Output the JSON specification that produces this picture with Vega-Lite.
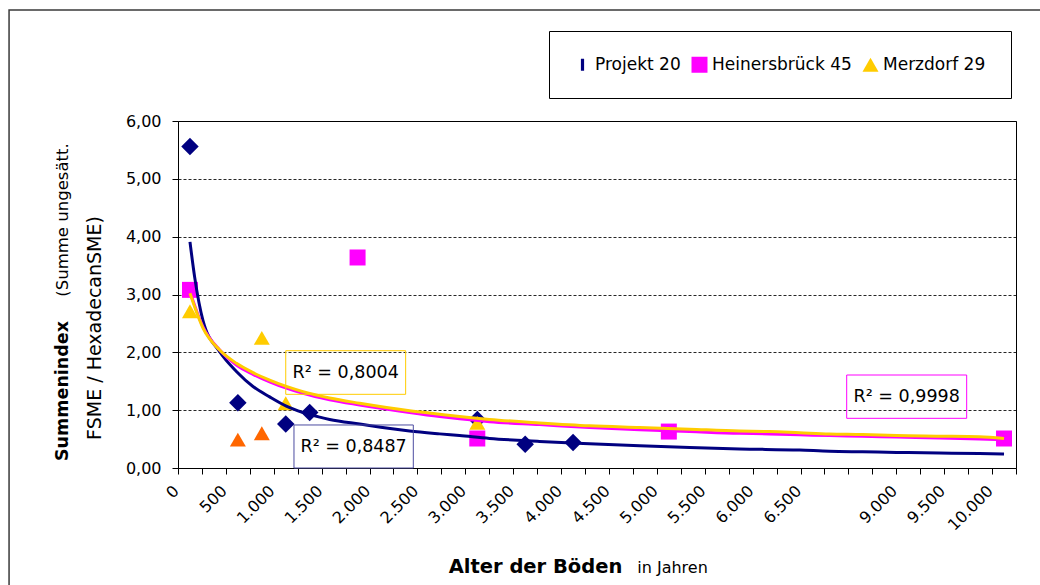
{
  "$schema": "https://vega.github.io/schema/vega-lite/v6.json",
  "width": 838,
  "height": 347,
  "autosize": {"type": "none"},
  "padding": {"left": 178, "top": 121, "right": 24, "bottom": 117},
  "background": "white",
  "config": {
    "font": "DejaVu Sans",
    "view": {"stroke": "#000", "strokeWidth": 1},
    "axis": {"labelFont": "DejaVu Sans", "titleFont": "DejaVu Sans", "labelColor": "#000", "titleColor": "#000", "tickColor": "#000", "domainColor": "#000"}
  },
  "datasets": {
    "punkte": [
      {"Serie": "Projekt 20", "Alter": 0, "Summenindex": 5.56},
      {"Serie": "Projekt 20", "Alter": 500, "Summenindex": 1.13},
      {"Serie": "Projekt 20", "Alter": 1000, "Summenindex": 0.76},
      {"Serie": "Projekt 20", "Alter": 1250, "Summenindex": 0.96},
      {"Serie": "Projekt 20", "Alter": 3000, "Summenindex": 0.84},
      {"Serie": "Projekt 20", "Alter": 3500, "Summenindex": 0.41},
      {"Serie": "Projekt 20", "Alter": 4000, "Summenindex": 0.44},
      {"Serie": "Merzdorf 29", "Alter": 0, "Summenindex": 2.71},
      {"Serie": "Merzdorf 29", "Alter": 750, "Summenindex": 2.25},
      {"Serie": "Merzdorf 29", "Alter": 1000, "Summenindex": 1.12},
      {"Serie": "Merzdorf 29", "Alter": 3000, "Summenindex": 0.78},
      {"Serie": "Merzdorf 29 (nicht im Trend)", "Alter": 500, "Summenindex": 0.49},
      {"Serie": "Merzdorf 29 (nicht im Trend)", "Alter": 750, "Summenindex": 0.6},
      {"Serie": "Heinersbrück 45", "Alter": 0, "Summenindex": 3.08},
      {"Serie": "Heinersbrück 45", "Alter": 1750, "Summenindex": 3.64},
      {"Serie": "Heinersbrück 45", "Alter": 3000, "Summenindex": 0.51},
      {"Serie": "Heinersbrück 45", "Alter": 5000, "Summenindex": 0.63},
      {"Serie": "Heinersbrück 45", "Alter": 10000, "Summenindex": 0.51}
    ],
    "trend": [
      {"Serie": "Projekt 20", "Alter": 0, "Trend": 3.91},
      {"Serie": "Projekt 20", "Alter": 49, "Trend": 3.3},
      {"Serie": "Projekt 20", "Alter": 136, "Trend": 2.55},
      {"Serie": "Projekt 20", "Alter": 310, "Trend": 2.01},
      {"Serie": "Projekt 20", "Alter": 485, "Trend": 1.67},
      {"Serie": "Projekt 20", "Alter": 658, "Trend": 1.41},
      {"Serie": "Projekt 20", "Alter": 832, "Trend": 1.23},
      {"Serie": "Projekt 20", "Alter": 1006, "Trend": 1.07},
      {"Serie": "Projekt 20", "Alter": 1180, "Trend": 0.96},
      {"Serie": "Projekt 20", "Alter": 1354, "Trend": 0.88},
      {"Serie": "Projekt 20", "Alter": 1458, "Trend": 0.84},
      {"Serie": "Projekt 20", "Alter": 1772, "Trend": 0.76},
      {"Serie": "Projekt 20", "Alter": 2293, "Trend": 0.64},
      {"Serie": "Projekt 20", "Alter": 2607, "Trend": 0.59},
      {"Serie": "Projekt 20", "Alter": 2815, "Trend": 0.56},
      {"Serie": "Projekt 20", "Alter": 3128, "Trend": 0.51},
      {"Serie": "Projekt 20", "Alter": 3650, "Trend": 0.46},
      {"Serie": "Projekt 20", "Alter": 4172, "Trend": 0.42},
      {"Serie": "Projekt 20", "Alter": 4695, "Trend": 0.385},
      {"Serie": "Projekt 20", "Alter": 5217, "Trend": 0.355},
      {"Serie": "Projekt 20", "Alter": 5738, "Trend": 0.33},
      {"Serie": "Projekt 20", "Alter": 6365, "Trend": 0.31},
      {"Serie": "Projekt 20", "Alter": 6944, "Trend": 0.29},
      {"Serie": "Projekt 20", "Alter": 7806, "Trend": 0.28},
      {"Serie": "Projekt 20", "Alter": 8694, "Trend": 0.27},
      {"Serie": "Projekt 20", "Alter": 9325, "Trend": 0.26},
      {"Serie": "Projekt 20", "Alter": 9742, "Trend": 0.25},
      {"Serie": "Projekt 20", "Alter": 10000, "Trend": 0.24},
      {"Serie": "Heinersbrück 45", "Alter": 0, "Trend": 3.05},
      {"Serie": "Heinersbrück 45", "Alter": 136, "Trend": 2.44},
      {"Serie": "Heinersbrück 45", "Alter": 310, "Trend": 2.04},
      {"Serie": "Heinersbrück 45", "Alter": 485, "Trend": 1.78},
      {"Serie": "Heinersbrück 45", "Alter": 658, "Trend": 1.62},
      {"Serie": "Heinersbrück 45", "Alter": 832, "Trend": 1.49},
      {"Serie": "Heinersbrück 45", "Alter": 1006, "Trend": 1.38},
      {"Serie": "Heinersbrück 45", "Alter": 1180, "Trend": 1.29},
      {"Serie": "Heinersbrück 45", "Alter": 1458, "Trend": 1.18},
      {"Serie": "Heinersbrück 45", "Alter": 1772, "Trend": 1.09},
      {"Serie": "Heinersbrück 45", "Alter": 2293, "Trend": 0.96},
      {"Serie": "Heinersbrück 45", "Alter": 2607, "Trend": 0.89},
      {"Serie": "Heinersbrück 45", "Alter": 2815, "Trend": 0.85},
      {"Serie": "Heinersbrück 45", "Alter": 3128, "Trend": 0.8},
      {"Serie": "Heinersbrück 45", "Alter": 3650, "Trend": 0.75},
      {"Serie": "Heinersbrück 45", "Alter": 4172, "Trend": 0.7},
      {"Serie": "Heinersbrück 45", "Alter": 4695, "Trend": 0.66},
      {"Serie": "Heinersbrück 45", "Alter": 5217, "Trend": 0.63},
      {"Serie": "Heinersbrück 45", "Alter": 5738, "Trend": 0.6},
      {"Serie": "Heinersbrück 45", "Alter": 6050, "Trend": 0.59},
      {"Serie": "Heinersbrück 45", "Alter": 6365, "Trend": 0.575},
      {"Serie": "Heinersbrück 45", "Alter": 6944, "Trend": 0.56},
      {"Serie": "Heinersbrück 45", "Alter": 7806, "Trend": 0.55},
      {"Serie": "Heinersbrück 45", "Alter": 8694, "Trend": 0.535},
      {"Serie": "Heinersbrück 45", "Alter": 9325, "Trend": 0.52},
      {"Serie": "Heinersbrück 45", "Alter": 9742, "Trend": 0.5},
      {"Serie": "Heinersbrück 45", "Alter": 10000, "Trend": 0.49},
      {"Serie": "Merzdorf 29", "Alter": 0, "Trend": 3.02},
      {"Serie": "Merzdorf 29", "Alter": 136, "Trend": 2.42},
      {"Serie": "Merzdorf 29", "Alter": 310, "Trend": 2.04},
      {"Serie": "Merzdorf 29", "Alter": 485, "Trend": 1.81},
      {"Serie": "Merzdorf 29", "Alter": 658, "Trend": 1.65},
      {"Serie": "Merzdorf 29", "Alter": 832, "Trend": 1.52},
      {"Serie": "Merzdorf 29", "Alter": 1006, "Trend": 1.41},
      {"Serie": "Merzdorf 29", "Alter": 1180, "Trend": 1.32},
      {"Serie": "Merzdorf 29", "Alter": 1458, "Trend": 1.21},
      {"Serie": "Merzdorf 29", "Alter": 1772, "Trend": 1.12},
      {"Serie": "Merzdorf 29", "Alter": 2293, "Trend": 0.99},
      {"Serie": "Merzdorf 29", "Alter": 2607, "Trend": 0.93},
      {"Serie": "Merzdorf 29", "Alter": 2815, "Trend": 0.89},
      {"Serie": "Merzdorf 29", "Alter": 3128, "Trend": 0.84},
      {"Serie": "Merzdorf 29", "Alter": 3650, "Trend": 0.78},
      {"Serie": "Merzdorf 29", "Alter": 4172, "Trend": 0.73},
      {"Serie": "Merzdorf 29", "Alter": 4695, "Trend": 0.7},
      {"Serie": "Merzdorf 29", "Alter": 5217, "Trend": 0.67},
      {"Serie": "Merzdorf 29", "Alter": 5738, "Trend": 0.64},
      {"Serie": "Merzdorf 29", "Alter": 6050, "Trend": 0.63},
      {"Serie": "Merzdorf 29", "Alter": 6365, "Trend": 0.61},
      {"Serie": "Merzdorf 29", "Alter": 6944, "Trend": 0.59},
      {"Serie": "Merzdorf 29", "Alter": 7806, "Trend": 0.58},
      {"Serie": "Merzdorf 29", "Alter": 8694, "Trend": 0.56},
      {"Serie": "Merzdorf 29", "Alter": 9325, "Trend": 0.55},
      {"Serie": "Merzdorf 29", "Alter": 9742, "Trend": 0.54},
      {"Serie": "Merzdorf 29", "Alter": 10000, "Trend": 0.51}
    ]
  },
  "resolve": {"axis": {"x": "independent", "y": "independent"}},
  "layer": [
    {
      "data": {"values": [{}]},
      "mark": {"type": "rect", "fill": "white", "fillOpacity": 0, "stroke": "#3a3a3a", "strokeWidth": 1.5},
      "encoding": {
        "x": {"datum": -1889, "type": "quantitative", "scale": {"domain": [-125, 6500, 9000, 10125], "range": [0, 634.49, 730.26, 838], "nice": false, "zero": false}, "axis": null},
        "x2": {"datum": 10428},
        "y": {"datum": 7.92, "type": "quantitative", "scale": {"domain": [0, 6], "nice": false, "zero": true}, "axis": null},
        "y2": {"datum": -2.28}
      }
    },
    {
      "data": {"name": "punkte"},
      "transform": [{"filter": "datum.Serie === 'Projekt 20'"}],
      "mark": {"type": "point", "filled": true, "opacity": 1, "strokeWidth": 0, "shape": "diamond", "size": 306, "color": "#000080"},
      "encoding": {
        "x": {"field": "Alter", "type": "quantitative", "scale": {"domain": [-125, 6500, 9000, 10125], "range": [0, 634.49, 730.26, 838], "nice": false, "zero": false}, "axis": null},
        "y": {"field": "Summenindex", "type": "quantitative", "scale": {"domain": [0, 6], "nice": false, "zero": true}, "axis": null}
      }
    },
    {
      "data": {"name": "punkte"},
      "transform": [{"filter": "datum.Serie !== 'Projekt 20'"}],
      "mark": {"type": "point", "filled": true, "opacity": 1, "strokeWidth": 0},
      "encoding": {
        "x": {
          "field": "Alter", "type": "quantitative",
          "scale": {"domain": [-125, 6500, 9000, 10125], "range": [0, 634.49, 730.26, 838], "nice": false, "zero": false},
          "axis": {
            "orient": "bottom",
            "values": [0, 500, 1000, 1500, 2000, 2500, 3000, 3500, 4000, 4500, 5000, 5500, 6000, 6500, 9000, 9500, 10000],
            "labelExpr": "replace(format(datum.value, ','), ',', '.')",
            "labelAngle": 315, "labelAlign": "right", "labelBaseline": "middle",
            "labelPadding": 20, "labelOffset": -14, "labelFontSize": 16,
            "labelOverlap": false, "labelFlush": false, "labelBound": false,
            "ticks": false, "tickSize": 0, "domain": false, "grid": false,
            "title": "Alter der Böden", "titleFontSize": 19.5, "titleFontWeight": "bold",
            "titleX": 357, "titleY": 104, "titleAlign": "center", "titleBaseline": "alphabetic"
          }
        },
        "y": {
          "field": "Summenindex", "type": "quantitative",
          "scale": {"domain": [0, 6], "nice": false, "zero": true},
          "axis": {
            "orient": "left",
            "values": [0, 1, 2, 3, 4, 5, 6],
            "labelExpr": "replace(format(datum.value, '.2f'), '.', ',')",
            "labelFontSize": 16, "labelPadding": 11, "tickSize": 6, "domain": false,
            "grid": true, "gridColor": "#000", "gridDash": [3, 2], "gridWidth": 1, "gridOpacity": 0.85,
            "title": "FSME / HexadecanSME)", "titleFontSize": 19, "titleFontWeight": "normal",
            "titleAngle": 270, "titleX": -78, "titleY": 206.5, "titleAlign": "center", "titleBaseline": "alphabetic"
          }
        },
        "color": {
          "field": "Serie", "type": "nominal",
          "scale": {"domain": ["Projekt 20", "Heinersbrück 45", "Merzdorf 29", "Merzdorf 29 (nicht im Trend)"], "range": ["#000080", "#FF00FF", "#FFCC00", "#FF6600"]},
          "legend": {
            "orient": "none", "legendX": 371, "legendY": -90, "direction": "horizontal", "title": null,
            "values": ["Projekt 20", "Heinersbrück 45", "Merzdorf 29"],
            "strokeColor": "#000", "padding": 25, "fillColor": "white",
            "labelFont": "DejaVu Sans", "labelFontSize": 17, "labelColor": "#000", "labelOffset": 4, "columnPadding": 10,
            "symbolStrokeWidth": 0, "symbolOpacity": 1
          }
        },
        "shape": {
          "field": "Serie", "type": "nominal",
          "scale": {"domain": ["Projekt 20", "Heinersbrück 45", "Merzdorf 29", "Merzdorf 29 (nicht im Trend)"], "range": ["M-0.2,-0.75H0.2V0.75H-0.2Z", "square", "triangle-up", "triangle-up"]},
          "legend": {
            "orient": "none", "legendX": 371, "legendY": -90, "direction": "horizontal", "title": null,
            "values": ["Projekt 20", "Heinersbrück 45", "Merzdorf 29"],
            "strokeColor": "#000", "padding": 25, "fillColor": "white",
            "labelFont": "DejaVu Sans", "labelFontSize": 17, "labelColor": "#000", "labelOffset": 4, "columnPadding": 10,
            "symbolStrokeWidth": 0, "symbolOpacity": 1
          }
        },
        "size": {
          "field": "Serie", "type": "nominal",
          "scale": {"domain": ["Projekt 20", "Heinersbrück 45", "Merzdorf 29", "Merzdorf 29 (nicht im Trend)"], "range": [256, 256, 400, 400]},
          "legend": null
        }
      }
    },
    {
      "data": {"name": "trend"},
      "mark": {"type": "line", "strokeWidth": 3, "interpolate": "monotone"},
      "encoding": {
        "x": {
          "field": "Alter", "type": "quantitative",
          "scale": {"domain": [-125, 6500, 9000, 10125], "range": [0, 634.49, 730.26, 838], "nice": false, "zero": false},
          "axis": {
            "orient": "bottom",
            "values": [-125, 125, 375, 625, 875, 1125, 1375, 1625, 1875, 2125, 2375, 2625, 2875, 3125, 3375, 3625, 3875, 4125, 4375, 4625, 4875, 5125, 5375, 5625, 5875, 6125, 6375, 6812.5, 7437.5, 8062.5, 8687.5, 9125, 9375, 9625, 9875, 10125],
            "labels": false, "ticks": true, "tickSize": 6, "domain": false, "grid": false,
            "title": "in Jahren", "titleFontSize": 16, "titleFontWeight": "normal",
            "titleX": 494, "titleY": 104, "titleAlign": "center", "titleBaseline": "alphabetic"
          }
        },
        "y": {
          "field": "Trend", "type": "quantitative",
          "scale": {"domain": [0, 6], "nice": false, "zero": true},
          "axis": {
            "orient": "left", "labels": false, "ticks": false, "domain": false, "grid": false,
            "title": "Summenindex", "titleFontSize": 17.5, "titleFontWeight": "bold",
            "titleAngle": 270, "titleX": -111, "titleY": 269.5, "titleAlign": "center", "titleBaseline": "alphabetic"
          }
        },
        "color": {
          "field": "Serie", "type": "nominal",
          "scale": {"domain": ["Projekt 20", "Heinersbrück 45", "Merzdorf 29", "Merzdorf 29 (nicht im Trend)"], "range": ["#000080", "#FF00FF", "#FFCC00", "#FF6600"]},
          "legend": null
        }
      }
    },
    {
      "data": {"values": [{}]},
      "mark": {"type": "rect", "fill": "white", "fillOpacity": 0, "stroke": "#FFCC00", "strokeWidth": 1},
      "encoding": {
        "x": {"datum": 1000, "type": "quantitative", "scale": {"domain": [-125, 6500, 9000, 10125], "range": [0, 634.49, 730.26, 838], "nice": false, "zero": false}, "axis": null},
        "x2": {"datum": 2252},
        "y": {
          "datum": 2.028, "type": "quantitative", "scale": {"domain": [0, 6], "nice": false, "zero": true},
          "axis": {
            "orient": "left", "labels": false, "ticks": false, "domain": false, "grid": false,
            "title": "(Summe ungesätt.", "titleFontSize": 16.5, "titleFontWeight": "normal",
            "titleAngle": 270, "titleX": -111, "titleY": 98.5, "titleAlign": "center", "titleBaseline": "alphabetic"
          }
        },
        "y2": {"datum": 1.274}
      }
    },
    {
      "data": {"values": [{}]},
      "mark": {"type": "rect", "fill": "white", "fillOpacity": 0, "stroke": "#4C4CA0", "strokeWidth": 1},
      "encoding": {
        "x": {"datum": 1086, "type": "quantitative", "scale": {"domain": [-125, 6500, 9000, 10125], "range": [0, 634.49, 730.26, 838], "nice": false, "zero": false}, "axis": null},
        "x2": {"datum": 2332},
        "y": {"datum": 0.744, "type": "quantitative", "scale": {"domain": [0, 6], "nice": false, "zero": true}, "axis": null},
        "y2": {"datum": 0}
      }
    },
    {
      "data": {"values": [{}]},
      "mark": {"type": "rect", "fill": "white", "fillOpacity": 0, "stroke": "#FF00FF", "strokeWidth": 1},
      "encoding": {
        "x": {"datum": 7393, "type": "quantitative", "scale": {"domain": [-125, 6500, 9000, 10125], "range": [0, 634.49, 730.26, 838], "nice": false, "zero": false}, "axis": null},
        "x2": {"datum": 9610},
        "y": {"datum": 1.608, "type": "quantitative", "scale": {"domain": [0, 6], "nice": false, "zero": true}, "axis": null},
        "y2": {"datum": 0.859}
      }
    },
    {
      "data": {"values": [{}]},
      "mark": {"type": "text", "text": "R² = 0,8004", "font": "DejaVu Sans", "fontSize": 17.5, "color": "#000", "align": "center", "baseline": "middle"},
      "encoding": {
        "x": {"datum": 1626, "type": "quantitative", "scale": {"domain": [-125, 6500, 9000, 10125], "range": [0, 634.49, 730.26, 838], "nice": false, "zero": false}, "axis": null},
        "y": {"datum": 1.651, "type": "quantitative", "scale": {"domain": [0, 6], "nice": false, "zero": true}, "axis": null}
      }
    },
    {
      "data": {"values": [{}]},
      "mark": {"type": "text", "text": "R² = 0,8487", "font": "DejaVu Sans", "fontSize": 17.5, "color": "#000", "align": "center", "baseline": "middle"},
      "encoding": {
        "x": {"datum": 1709, "type": "quantitative", "scale": {"domain": [-125, 6500, 9000, 10125], "range": [0, 634.49, 730.26, 838], "nice": false, "zero": false}, "axis": null},
        "y": {"datum": 0.369, "type": "quantitative", "scale": {"domain": [0, 6], "nice": false, "zero": true}, "axis": null}
      }
    },
    {
      "data": {"values": [{}]},
      "mark": {"type": "text", "text": "R² = 0,9998", "font": "DejaVu Sans", "fontSize": 17.5, "color": "#000", "align": "center", "baseline": "middle"},
      "encoding": {
        "x": {"datum": 8959, "type": "quantitative", "scale": {"domain": [-125, 6500, 9000, 10125], "range": [0, 634.49, 730.26, 838], "nice": false, "zero": false}, "axis": null},
        "y": {"datum": 1.234, "type": "quantitative", "scale": {"domain": [0, 6], "nice": false, "zero": true}, "axis": null}
      }
    }
  ]
}
